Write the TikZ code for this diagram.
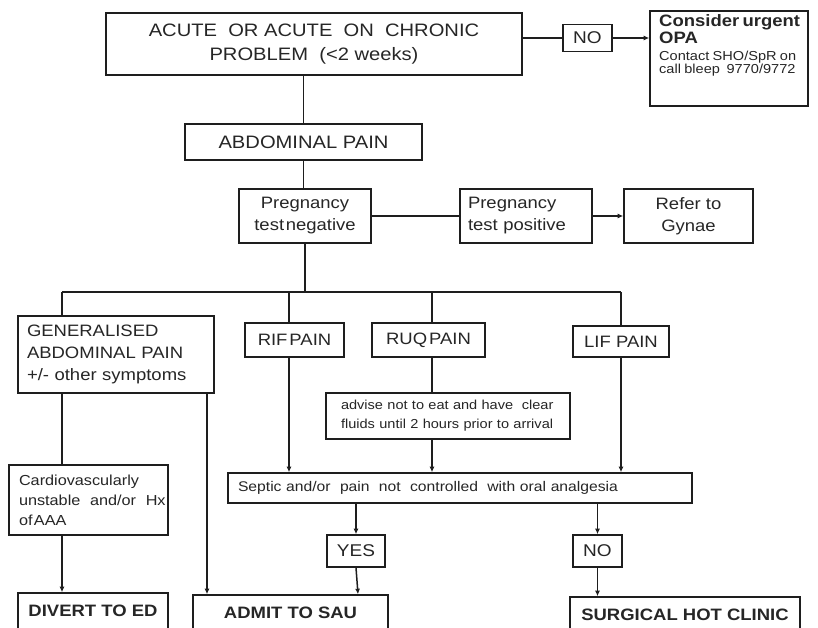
\documentclass[tikz,border=0pt]{standalone}
\usepackage{fontspec}
\setmainfont[FakeStretch=1.12]{Liberation Sans}
\usetikzlibrary{arrows.meta,calc}
\definecolor{txt}{HTML}{262626}
\definecolor{linec}{HTML}{1E1E1E}
\newcommand{\myfs}[2]{\fontsize{#1}{#2}\selectfont}
\tikzset{
  box/.style={draw=linec, line width=1.6pt, inner sep=0pt, text=txt, fill=white},
  conn/.style={draw=linec, line width=1.5pt},
  arr/.style={conn, -{Latex[length=5.5pt,width=5pt]}},
  big/.style={font=\myfs{18}{24}},
  mid/.style={font=\myfs{16.5}{22}},
  bold/.style={font=\myfs{16.5}{20}\bfseries},
}
\begin{document}
\begin{tikzpicture}[x=1pt,y=-1pt]
\useasboundingbox (0,0) rectangle (818,628);
\clip (0,0) rectangle (818,628);
\fill[white] (0,0) rectangle (818,628);

% boxes
\node[box,big,align=center,minimum width=416pt,minimum height=62pt] (top) at (314,44)
  {ACUTE~ OR ACUTE~ ON~ CHRONIC\\PROBLEM~ (<2 weeks)};
\node[box,font=\myfs{17}{20},minimum width=49pt,minimum height=27pt] (no1) at (587.5,38) {NO};
\node[box,minimum width=158pt,minimum height=95pt] (opa) at (729,58.5) {};
\node[anchor=north west,inner sep=0pt,text=txt,text width=146pt,align=left] (opatxt) at (659,14)
  {{\myfs{16.5}{17.5}\bfseries Consider urgent\\OPA\par}\myfs{13}{16.5}Contact SHO/SpR on\\call bleep~ 9770/9772};
\node[box,big,minimum width=237pt,minimum height=36pt] (abd) at (303.5,142) {ABDOMINAL PAIN};
\node[box,mid,align=center,minimum width=132pt,minimum height=54pt] (preg) at (305,216)
  {Pregnancy\\test\hspace{0.1em}negative};
\node[box,mid,align=left,inner xsep=8pt,text width=116pt,minimum height=54pt] (pos) at (526,216)
  {Pregnancy\\test positive};
\node[box,mid,align=center,minimum width=129pt,minimum height=54pt] (gyn) at (688.5,216)
  {Refer to\\Gynae};
\node[box,mid,align=left,inner xsep=9pt,text width=178pt,minimum height=77pt] (gen) at (116,354.5)
  {GENERALISED\\ABDOMINAL PAIN\\+/- other symptoms};
\node[box,mid,minimum width=99pt,minimum height=34pt] (rif) at (294.5,340) {RIF\hspace{0.12em}PAIN};
\node[box,mid,minimum width=113pt,minimum height=34pt] (ruq) at (428.5,340) {RUQ\hspace{0.12em}PAIN};
\node[box,mid,minimum width=96pt,minimum height=31pt] (lif) at (621,341.5) {LIF PAIN};
\node[box,font=\myfs{13}{19},align=left,inner xsep=15pt,text width=214pt,minimum height=46pt] (adv) at (448,416)
  {advise not to eat and have~ clear\\fluids until 2 hours prior to arrival};
\node[box,font=\myfs{14}{18},align=left,inner xsep=10pt,text width=444pt,minimum height=30pt] (sep) at (460,488)
  {Septic and/or~ pain~ not~ controlled~ with oral analgesia};
\node[box,font=\myfs{14.5}{20},align=left,inner xsep=10pt,text width=139pt,minimum height=70pt] (card) at (88.5,500)
  {Cardiovascularly\\unstable~ and/or~ Hx\\of\hspace{0.1em}AAA};
\node[box,font=\myfs{17}{20},minimum width=58pt,minimum height=32pt] (yes) at (356,551) {YES};
\node[box,font=\myfs{17}{20},minimum width=49pt,minimum height=32pt] (no2) at (597.5,551) {NO};
\node[box,bold,minimum width=150pt,minimum height=36pt] (div) at (93,611) {DIVERT TO ED};
\node[box,bold,minimum width=195pt,minimum height=36pt] (adm) at (290.5,613) {ADMIT TO SAU};
\node[box,bold,minimum width=230pt,minimum height=36pt] (sur) at (685,615) {SURGICAL HOT CLINIC};

% junction coordinates
\coordinate (jn) at (305,292);
\coordinate (jg) at (62,292);
\coordinate (jl) at (621,292);

% connectors
\draw[conn] (abd.north |- top.south) -- (abd.north);
\draw[conn] (top.east |- no1.west) -- (no1.west);
\draw[arr] (no1.east) -- (no1.east -| opa.west);
\draw[conn] (abd.south) -- (abd.south |- preg.north);
\draw[conn] (preg.east) -- (pos.west);
\draw[arr] (pos.east) -- (gyn.west);
\draw[conn] (preg.south) -- (jn);
\draw[conn] (jg) -- (jl);
\draw[conn] (jg) -- (jg |- gen.north);
\draw[conn] ([xshift=-5.5pt]rif.north) -- ([xshift=-5.5pt]rif.north |- jn);
\draw[conn] ([xshift=3.5pt]ruq.north) -- ([xshift=3.5pt]ruq.north |- jn);
\draw[conn] (lif.north) -- (lif.north |- jl);
\draw[arr] ([xshift=-5.5pt]rif.south) -- ([xshift=-5.5pt]rif.south |- sep.north);
\draw[conn] ([xshift=3.5pt]ruq.south) -- ([xshift=3.5pt]ruq.south |- adv.north);
\draw[arr] ([xshift=-16pt]adv.south) -- ([xshift=-16pt]adv.south |- sep.north);
\draw[arr] (lif.south) -- (lif.south |- sep.north);
\draw[conn] ([xshift=-54pt]gen.south) -- ([xshift=-54pt]gen.south |- card.north);
\draw[arr] ([xshift=-26.5pt]card.south) -- ([xshift=-26.5pt]card.south |- div.north);
\draw[arr] ([xshift=91pt]gen.south) -- ([xshift=91pt]gen.south |- adm.north);
\draw[arr] (yes.north |- sep.south) -- (yes.north);
\draw[arr] (yes.south) -- ([xshift=2pt]yes.south |- adm.north);
\draw[arr] (no2.north |- sep.south) -- (no2.north);
\draw[arr] (no2.south) -- (no2.south |- sur.north);
\end{tikzpicture}
\end{document}
